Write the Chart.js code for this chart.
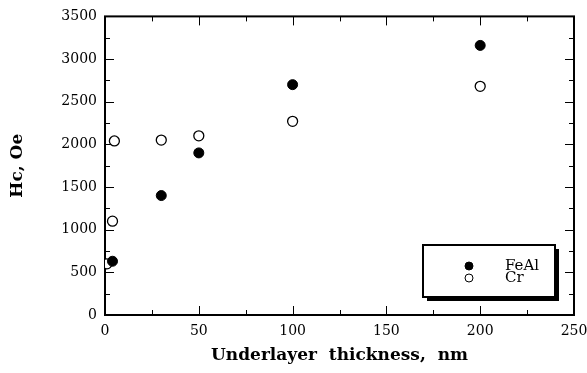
<!DOCTYPE html>
<html lang="en">
<head>
    <meta charset="UTF-8">
    <title>Hc vs underlayer thickness</title>
    <script src="https://cdn.jsdelivr.net/npm/chart.js@4.4.1/dist/chart.umd.min.js"></script>
    <style>
        body {
            margin: 0;
            background-color: #fff;
        }
        canvas {
            display: block;
        }
    </style>
</head>
<body>
    <canvas id="chart" width="587" height="373"></canvas>

    <script>
        // values
        const feAlThickness = [4, 30, 50, 100, 200];
        const feAlHc = [630, 1400, 1900, 2700, 3160];
        const crThickness = [1, 4, 5, 30, 50, 100, 200];
        const crHc = [600, 1100, 2040, 2050, 2100, 2270, 2680];

        const serif = "'DejaVu Serif', 'Liberation Serif', serif";

        function toPoints(xs, ys) {
            return xs.map((x, i) => ({ x: x, y: ys[i] }));
        }

        // inward major/minor ticks on all four sides plus the frame
        const frameTicks = {
            id: 'frameTicks',
            beforeDatasetsDraw(chart) {
                const ctx = chart.ctx;
                const a = chart.chartArea;
                const xs = chart.scales.x;
                const ys = chart.scales.y;
                ctx.save();
                ctx.strokeStyle = '#000';
                ctx.lineWidth = 1;
                for (let v = 25; v < 250; v += 25) {
                    const px = Math.round(xs.getPixelForValue(v)) + 0.5;
                    const len = v % 50 === 0 ? 9 : 5;
                    ctx.beginPath();
                    ctx.moveTo(px, a.bottom);
                    ctx.lineTo(px, a.bottom - len);
                    ctx.moveTo(px, a.top);
                    ctx.lineTo(px, a.top + len);
                    ctx.stroke();
                }
                for (let v = 250; v < 3500; v += 250) {
                    const py = Math.round(ys.getPixelForValue(v)) + 0.5;
                    const len = v % 500 === 0 ? 9 : 5;
                    ctx.beginPath();
                    ctx.moveTo(a.left, py);
                    ctx.lineTo(a.left + len, py);
                    ctx.moveTo(a.right, py);
                    ctx.lineTo(a.right - len, py);
                    ctx.stroke();
                }
                ctx.lineWidth = 2;
                ctx.strokeRect(a.left, a.top, a.right - a.left, a.bottom - a.top);
                ctx.restore();
            }
        };

        // boxed legend with a drop shadow, lower right of the plot
        const boxLegend = {
            id: 'boxLegend',
            afterDatasetsDraw(chart) {
                const ctx = chart.ctx;
                const a = chart.chartArea;
                const w = 132, h = 52;
                const x0 = a.right - 19 - w;
                const y0 = a.bottom - 18 - h;
                ctx.save();
                ctx.fillStyle = '#000';
                ctx.fillRect(x0 + 4, y0 + 4, w, h);
                ctx.fillStyle = '#fff';
                ctx.fillRect(x0, y0, w, h);
                ctx.lineWidth = 2;
                ctx.strokeStyle = '#000';
                ctx.strokeRect(x0, y0, w, h);
                ctx.font = '15px ' + serif;
                ctx.textBaseline = 'middle';
                chart.data.datasets.forEach((ds, i) => {
                    const cy = y0 + 21 + i * 12;
                    ctx.beginPath();
                    ctx.arc(x0 + 46, cy, 4, 0, Math.PI * 2);
                    ctx.fillStyle = ds.backgroundColor;
                    ctx.fill();
                    ctx.lineWidth = 1;
                    ctx.stroke();
                    ctx.fillStyle = '#000';
                    ctx.fillText(ds.label, x0 + 82, cy);
                });
                ctx.restore();
            }
        };

        new Chart(document.getElementById('chart'), {
            type: 'scatter',
            data: {
                datasets: [
                    {
                        label: 'FeAl',
                        data: toPoints(feAlThickness, feAlHc),
                        backgroundColor: '#000',
                        borderColor: '#000',
                        borderWidth: 1,
                        pointRadius: 5
                    },
                    {
                        label: 'Cr',
                        data: toPoints(crThickness, crHc),
                        backgroundColor: '#fff',
                        borderColor: '#000',
                        borderWidth: 1.3,
                        pointRadius: 5
                    }
                ]
            },
            options: {
                responsive: false,
                animation: false,
                layout: {
                    padding: { left: 0, right: 0, top: 14, bottom: 0 }
                },
                plugins: {
                    legend: { display: false },
                    tooltip: { enabled: false }
                },
                scales: {
                    x: {
                        type: 'linear',
                        min: 0,
                        max: 250,
                        afterFit: s => {
                            s.height = 58;
                            s.paddingLeft = 0;
                            s.paddingRight = 13;
                        },
                        ticks: {
                            stepSize: 50,
                            color: '#000',
                            padding: 8,
                            font: { family: serif, size: 14 },
                            callback: v => String(v)
                        },
                        grid: { display: false, drawTicks: false },
                        border: { display: false },
                        title: {
                            display: true,
                            text: 'Underlayer  thickness,  nm',
                            color: '#000',
                            font: { family: serif, size: 17, weight: 'bold' },
                            padding: { top: 0, bottom: 7 }
                        }
                    },
                    y: {
                        min: 0,
                        max: 3500,
                        afterFit: s => { s.width = 105; },
                        ticks: {
                            stepSize: 500,
                            color: '#000',
                            padding: 8,
                            font: { family: serif, size: 14 },
                            callback: v => String(v)
                        },
                        grid: { display: false, drawTicks: false },
                        border: { display: false },
                        title: {
                            display: true,
                            text: 'Hc, Oe',
                            color: '#000',
                            font: { family: serif, size: 17, weight: 'bold' },
                            padding: { top: 7, bottom: 0 }
                        }
                    }
                }
            },
            plugins: [frameTicks, boxLegend]
        });
    </script>
</body>
</html>
